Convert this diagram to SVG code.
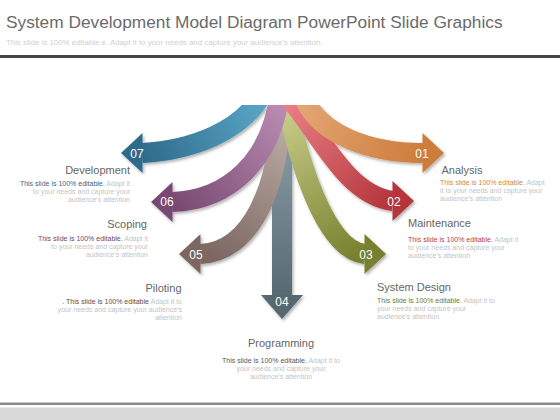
<svg xmlns="http://www.w3.org/2000/svg" width="560" height="420" viewBox="0 0 560 420">
<style>
.title{font-family:"Liberation Sans",Arial,sans-serif;font-size:17.3px;fill:#6b6b6b}
.sub{font-family:"Liberation Sans",Arial,sans-serif;font-size:7.9px;fill:#cfcfcf}
.lbl{font-family:"Liberation Sans",Arial,sans-serif;font-size:11px;fill:#666666}
.d{font-family:"Liberation Sans",Arial,sans-serif;font-size:7px;fill:#c4c4c4}
.num{font-family:"Liberation Sans",Arial,sans-serif;font-size:12px;fill:#ffffff;text-anchor:middle}
.shaft{fill:none;stroke-width:20}
.r{text-anchor:end}
.m{text-anchor:middle}
</style>
<defs>
<clipPath id="top"><rect x="0" y="105" width="560" height="300"/></clipPath>
<filter id="sh" x="-20%" y="-20%" width="140%" height="140%">
<feDropShadow dx="1.5" dy="2" stdDeviation="1.5" flood-color="#000" flood-opacity="0.3"/>
</filter>
<linearGradient id="g7" gradientUnits="userSpaceOnUse" x1="258" y1="105" x2="142" y2="153"><stop offset="0" stop-color="#57a3c4"/><stop offset="1" stop-color="#2f6b8b"/></linearGradient>
<linearGradient id="g6" gradientUnits="userSpaceOnUse" x1="278" y1="105" x2="172" y2="202"><stop offset="0" stop-color="#b98bb1"/><stop offset="1" stop-color="#7a4a72"/></linearGradient>
<linearGradient id="g5" gradientUnits="userSpaceOnUse" x1="283" y1="105" x2="200" y2="254"><stop offset="0" stop-color="#c2b3ad"/><stop offset="1" stop-color="#7b6661"/></linearGradient>
<linearGradient id="g4" gradientUnits="userSpaceOnUse" x1="282" y1="105" x2="282" y2="300"><stop offset="0" stop-color="#92a6b0"/><stop offset="1" stop-color="#566870"/></linearGradient>
<linearGradient id="g3" gradientUnits="userSpaceOnUse" x1="286" y1="105" x2="365" y2="254"><stop offset="0" stop-color="#cbcf8c"/><stop offset="1" stop-color="#76802e"/></linearGradient>
<linearGradient id="g2" gradientUnits="userSpaceOnUse" x1="290" y1="105" x2="393" y2="201"><stop offset="0" stop-color="#e87d83"/><stop offset="1" stop-color="#b5353c"/></linearGradient>
<linearGradient id="g1" gradientUnits="userSpaceOnUse" x1="306" y1="105" x2="423" y2="153"><stop offset="0" stop-color="#e2a472"/><stop offset="1" stop-color="#cd7d3a"/></linearGradient>
</defs>
<rect width="560" height="420" fill="#ffffff"/>
<g id="header">
<text class="title" x="6" y="27.5">System Development Model Diagram PowerPoint Slide Graphics</text>
<text class="sub" x="6" y="45">This slide is 100% editable e. Adapt it to your needs and capture your audience's attention.</text>
<rect x="0" y="55" width="560" height="3" fill="#454545"/>
</g>
<g id="footer">
<rect x="0" y="402.5" width="560" height="2.5" fill="#8a8a8a"/>
<rect x="0" y="407.5" width="560" height="12.5" fill="#d9d9d9"/>
</g>
<g id="connectors" filter="url(#sh)">
<g id="arrow04">
<path class="shaft" clip-path="url(#top)" stroke="url(#g4)" d="M 282 98 L 282 296"/>
<polygon points="261,295 282,319 303,295" fill="#566870"/>
</g>
<g id="arrow05">
<path class="shaft" clip-path="url(#top)" stroke="url(#g5)" d="M 281 98 C 281 190 250 252 200 254"/>
<polygon points="200.5,234 179,254 200.5,274" fill="#7b6661"/>
</g>
<g id="arrow03">
<path class="shaft" clip-path="url(#top)" stroke="url(#g3)" d="M 286 98 C 298 160 325 250 365 254"/>
<polygon points="364.5,234 386,254 364.5,274" fill="#76802e"/>
</g>
<g id="arrow06">
<path class="shaft" clip-path="url(#top)" stroke="url(#g6)" d="M 279 98 C 270 160 230 200 172 202"/>
<polygon points="172.5,182 151,202 172.5,222" fill="#7a4a72"/>
</g>
<g id="arrow02">
<path class="shaft" clip-path="url(#top)" stroke="url(#g2)" d="M 289 98 C 318 130 345 195 393 201"/>
<polygon points="392.5,181 414,201 392.5,221" fill="#b5353c"/>
</g>
<g id="arrow07">
<path class="shaft" clip-path="url(#top)" stroke="url(#g7)" d="M 260 98 C 240 130 195 150 142 153"/>
<polygon points="142.5,133 121,153 142.5,173" fill="#2f6b8b"/>
</g>
<g id="arrow01">
<path class="shaft" clip-path="url(#top)" stroke="url(#g1)" d="M 304 98 C 320 135 370 153 423 153"/>
<polygon points="422.5,133 444,153 422.5,173" fill="#cd7d3a"/>
</g>
</g>
<g id="numbers">
<text class="num" x="137" y="157.5">07</text>
<text class="num" x="167" y="205.5">06</text>
<text class="num" x="196" y="258.5">05</text>
<text class="num" x="282" y="306">04</text>
<text class="num" x="366" y="258.5">03</text>
<text class="num" x="394" y="205.5">02</text>
<text class="num" x="422" y="157.5">01</text>
</g>
<g id="development">
<text class="lbl r" x="130" y="173.5">Development</text>
<text class="d r" x="130" y="186"><tspan fill="#3c6680">This slide is 100% editable.</tspan> Adapt it</text>
<text class="d r" x="130" y="194">to your needs and capture your</text>
<text class="d r" x="130" y="202">audience's attention</text>
</g>
<g id="scoping">
<text class="lbl r" x="147" y="228">Scoping</text>
<text class="d r" x="148" y="241"><tspan fill="#6a4865">This slide is 100% editable.</tspan> Adapt it</text>
<text class="d r" x="148" y="249">to your needs and capture your</text>
<text class="d r" x="148" y="257">audience's attention</text>
</g>
<g id="piloting">
<text class="lbl r" x="181.5" y="291.5">Piloting</text>
<text class="d r" x="182" y="304"><tspan fill="#5a4c49">. This slide is 100% editable</tspan> Adapt it to</text>
<text class="d r" x="182" y="312">your needs and capture your audience's</text>
<text class="d r" x="182" y="320">attention</text>
</g>
<g id="programming">
<text class="lbl m" x="281" y="347">Programming</text>
<text class="d m" x="281" y="362.5"><tspan fill="#4d5a60">This slide is 100% editable.</tspan> Adapt it to</text>
<text class="d m" x="281" y="370.5">your needs and capture your</text>
<text class="d m" x="281" y="378.5">audience's attention</text>
</g>
<g id="systemdesign">
<text class="lbl" x="377" y="291">System Design</text>
<text class="d" x="377" y="303"><tspan fill="#6d7a2c">This slide is 100% editable.</tspan> Adapt it to</text>
<text class="d" x="377" y="311">your needs and capture your</text>
<text class="d" x="377" y="319">audience's attention</text>
</g>
<g id="maintenance">
<text class="lbl" x="408" y="227">Maintenance</text>
<text class="d" x="408" y="241.5"><tspan fill="#b4404c">This slide is 100% editable.</tspan> Adapt it</text>
<text class="d" x="408" y="249.5">to your needs and capture your</text>
<text class="d" x="408" y="257.5">audience's attention</text>
</g>
<g id="analysis">
<text class="lbl" x="441.5" y="173.5">Analysis</text>
<text class="d" x="440" y="184.5"><tspan fill="#c98a3e">This slide is 100% editable.</tspan> Adapt</text>
<text class="d" x="440" y="192.5">it to your needs and capture your</text>
<text class="d" x="440" y="200.5">audience's attention</text>
</g>
</svg>
